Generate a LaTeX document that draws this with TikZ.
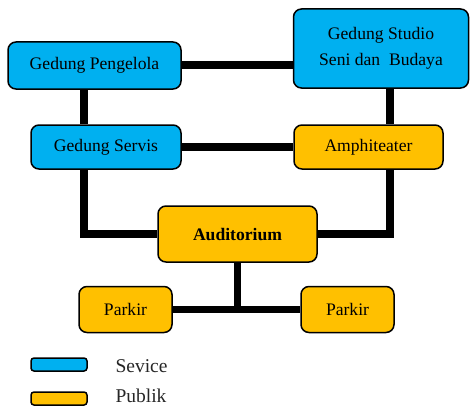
\documentclass[tikz,border=0pt]{standalone}
\usepackage{fontspec}
\setmainfont{Liberation Serif}
\usetikzlibrary{positioning,backgrounds}

\definecolor{serviceblue}{HTML}{00B0F0}
\definecolor{publicorange}{HTML}{FFC000}

\begin{document}
\begin{tikzpicture}[x=1pt, y=1pt,
    room/.style={draw=black, line width=1.5pt, rounded corners=8pt, align=center,
                 inner sep=0pt, font=\fontsize{17.6}{26}\selectfont},
    service/.style={room, fill=serviceblue},
    public/.style={room, fill=publicorange},
    link/.style={line width=7.5pt, line join=miter},
    swatch/.style={draw=black, line width=1.5pt, rounded corners=3pt,
                   minimum width=56pt, minimum height=13pt, inner sep=0pt},
    legendtext/.style={anchor=west, text=black!85, font=\fontsize{19.5}{22}\selectfont}]

    \useasboundingbox (0,0) rectangle (470,408);

    % Top row
    \node[service, minimum width=173pt, minimum height=47pt] (pengelola) at (94.5,342.5) {Gedung Pengelola};
    \node[service, minimum width=175pt, minimum height=79pt] (studio) at (381,359.5) {Gedung Studio\\Seni dan\ \ Budaya};

    % Middle row
    \node[service, minimum width=150pt, minimum height=44pt] (servis) at (106,261) {Gedung Servis};
    \node[public, minimum width=149pt, minimum height=44pt] (amphi) at (368.5,261) {Amphiteater};

    % Auditorium and parking
    \node[public, minimum width=159pt, minimum height=56pt, font=\fontsize{17.6}{26}\selectfont\bfseries] (auditorium) at (237.5,174) {Auditorium};
    \node[public, minimum width=93pt, minimum height=46pt] (parkirL) at (125.5,98.5) {Parkir};
    \node[public, minimum width=93pt, minimum height=46pt] (parkirR) at (347.5,98.5) {Parkir};

    % Connectors
    \coordinate (lx) at (84,0);
    \coordinate (rx) at (390,0);
    \begin{scope}[on background layer]
        \draw[link] (pengelola.east |- 0,343) -- (studio.west |- 0,343);
        \draw[link] (servis.east) -- (amphi.west);
        \draw[link] (pengelola.south -| lx) -- (servis.north -| lx);
        \draw[link] (studio.south -| rx) -- (amphi.north -| rx);
        \draw[link] (servis.south -| lx) |- (auditorium.west);
        \draw[link] (amphi.south -| rx) |- (auditorium.east);
        \draw[link] (parkirL.east) -- (parkirR.west);
        \draw[link] (auditorium.south) -- (auditorium.south |- parkirL.east);
    \end{scope}

    % Legend
    \node[swatch, fill=serviceblue] (keyservice) at (59,43.5) {};
    \node[swatch, fill=publicorange] (keypublic) at (59,9.5) {};
    \node[legendtext] (labservice) at (112,42) {Sevice};
    \node[legendtext] (labpublic) at (112,12) {Publik};

\end{tikzpicture}
\end{document}
